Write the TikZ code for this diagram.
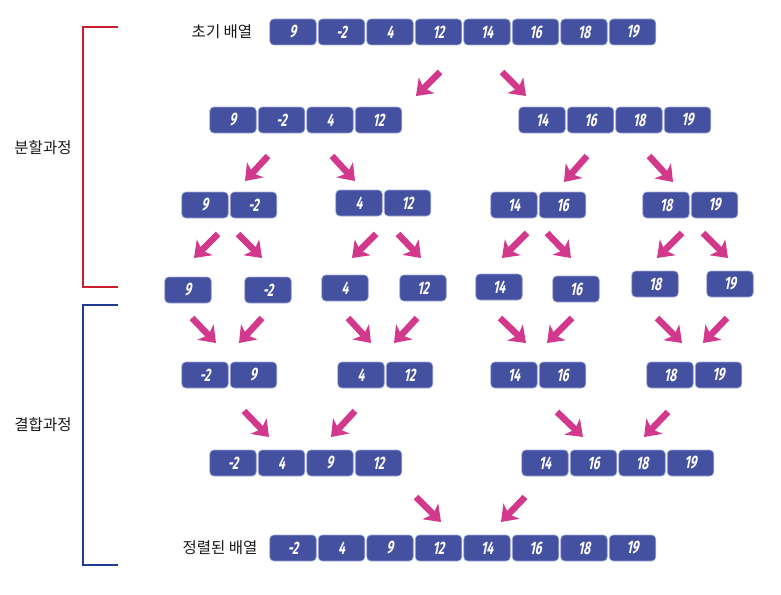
\documentclass[tikz,border=0pt]{standalone}
\usepackage{fontspec}
\usetikzlibrary{arrows.meta}
\newfontfamily\numfont[FakeStretch=0.66,FakeSlant=0.2]{Fira Sans}
\newfontfamily\krfont{Noto Sans CJK KR}
\definecolor{boxblue}{HTML}{4450A0}
\definecolor{boxedge}{HTML}{A3AADA}
\definecolor{arrowpink}{HTML}{D2388C}
\definecolor{splitred}{HTML}{CC1F2D}
\definecolor{mergeblue}{HTML}{1E3C96}
\tikzset{
  cell/.style={draw=boxedge, line width=0.6pt, fill=boxblue, rounded corners=4pt,
    minimum width=46.5pt, minimum height=26pt, inner sep=0pt,
    text=white, font=\numfont\bfseries\fontsize{18}{18}\selectfont},
  lbl/.style={font=\krfont\fontsize{15.5}{17}\selectfont, text=black!90, inner sep=0pt},
  parr/.style={draw=arrowpink, line width=6.5pt,
    -{Stealth[width=22pt,length=15pt,inset=4pt]}},
  bracketline/.style={line width=2.8pt},
}
% row of cells: #1 name prefix, #2 first centre x, #3 y, #4 list
\newcommand{\cellrow}[4]{%
  \foreach \v [count=\i from 0] in {#4} {
    \node[cell] (#1\i) at ({#2+48.5*\i},#3) {\v};
  }%
}
\newcommand{\parrow}[3]{%
  \coordinate (#1s) at #2; \coordinate (#1e) at #3;
  \draw[parr] (#1s) -- (#1e);
}
\begin{document}
\begin{tikzpicture}[x=1pt,y=-1pt]
\useasboundingbox (0,0) rectangle (781,594);
% labels
\node[lbl] (init) at (222,32) {초기 배열};
\node[lbl] (sorted) at (220,548) {정렬된 배열};
\node[lbl] (split) at (43,148) {분할과정};
\node[lbl] (merge) at (43,425) {결합과정};
% brackets
\coordinate (rt) at (118,27); \coordinate (rb) at (118,287);
\coordinate (bt) at (118,305); \coordinate (bb) at (118,565);
\draw[bracketline, draw=splitred] (rt) -- (83,27) -- (83,287) -- (rb);
\draw[bracketline, draw=mergeblue] (bt) -- (83,305) -- (83,565) -- (bb);
% rows
\cellrow{a}{293}{32}{9,-2,4,12,14,16,18,19}
\cellrow{bl}{233}{120}{9,-2,4,12}
\cellrow{br}{542}{120}{14,16,18,19}
\cellrow{ca}{205}{205}{9,-2}
\cellrow{cb}{359}{203}{4,12}
\cellrow{cc}{514}{205}{14,16}
\cellrow{cd}{666}{205}{18,19}
\node[cell] (d1) at (188,290) {9};
\node[cell] (d2) at (268,290) {-2};
\node[cell] (d3) at (345,288) {4};
\node[cell] (d4) at (423,288) {12};
\node[cell] (d5) at (499,287) {14};
\node[cell] (d6) at (576,289) {16};
\node[cell] (d7) at (655,284) {18};
\node[cell] (d8) at (730,284) {19};
\cellrow{ea}{205}{375}{-2,9}
\cellrow{eb}{361}{375}{4,12}
\cellrow{ec}{514}{375}{14,16}
\cellrow{ed}{670}{375}{18,19}
\cellrow{fl}{233}{463}{-2,4,9,12}
\cellrow{fr}{545}{463}{14,16,18,19}
\cellrow{g}{293}{548}{-2,4,9,12,14,16,18,19}
% arrows: split
\parrow{p1}{(440,72)}{(416,96)}
\parrow{p2}{(502,72)}{(526,96)}
\parrow{p3}{(268,156)}{(245,181)}
\parrow{p4}{(332,156)}{(355,181)}
\parrow{p5}{(587,156)}{(564,182)}
\parrow{p6}{(649,156)}{(673,182)}
\parrow{p7}{(218,234)}{(194,258)}
\parrow{p8}{(238,234)}{(262,258)}
\parrow{p9}{(376,234)}{(352,258)}
\parrow{p10}{(398,234)}{(421,258)}
\parrow{p11}{(527,233)}{(502,258)}
\parrow{p12}{(547,233)}{(571,258)}
\parrow{p13}{(682,233)}{(657,258)}
\parrow{p14}{(703,233)}{(728,258)}
% arrows: merge
\parrow{q1}{(192,318)}{(216,343)}
\parrow{q2}{(262,318)}{(239,343)}
\parrow{q3}{(348,318)}{(371,343)}
\parrow{q4}{(417,318)}{(394,343)}
\parrow{q5}{(500,318)}{(526,343)}
\parrow{q6}{(572,318)}{(547,343)}
\parrow{q7}{(657,318)}{(682,343)}
\parrow{q8}{(727,318)}{(703,343)}
\parrow{q9}{(244,411)}{(269,437)}
\parrow{q10}{(355,411)}{(331,437)}
\parrow{q11}{(557,412)}{(583,437)}
\parrow{q12}{(668,412)}{(644,437)}
\parrow{q13}{(416,497)}{(441,522)}
\parrow{q14}{(525,497)}{(501,522)}
\end{tikzpicture}
\end{document}
